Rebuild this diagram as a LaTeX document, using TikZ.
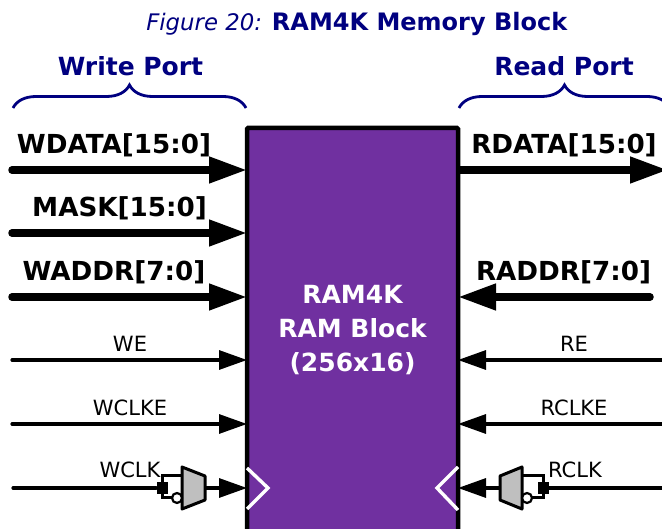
\documentclass[tikz,border=0pt]{standalone}
\usepackage{fontspec}
\setmainfont{DejaVu Sans}
\usepackage{xcolor}
\usepackage{tikz}
\usetikzlibrary{arrows.meta,decorations.pathreplacing}
\definecolor{navytext}{RGB}{0,0,128}
\definecolor{blockfill}{RGB}{112,48,160}
\definecolor{muxfill}{RGB}{191,191,191}
\tikzset{
  busline/.style={line width=7.5pt,-{Triangle[length=38pt,width=25pt]}},
  sigline/.style={line width=3.2pt,-{Triangle[length=28pt,width=19pt]}},
  buslabel/.style={font=\fontsize{26.2}{29}\selectfont\bfseries,inner sep=0pt},
  siglabel/.style={font=\fontsize{21}{24}\selectfont,inner sep=0pt},
  headlabel/.style={font=\fontsize{25}{28}\selectfont\bfseries,text=navytext,inner sep=0pt},
  bracket/.style={draw=navytext,line width=2.8pt,decorate,decoration={brace,amplitude=23pt}},
  muxbox/.style={draw,line width=3pt,fill=muxfill,line join=round},
  bubble/.style={circle,draw,line width=2.2pt,fill=white,inner sep=0pt,minimum size=10pt},
  tap/.style={rectangle,fill=black,inner sep=0pt,minimum width=11pt,minimum height=12pt},
  chevron/.style={draw=white,line width=3.4pt}
}
\begin{document}
\begin{tikzpicture}[x=1pt,y=-1pt]
  \useasboundingbox (0,0) rectangle (662,529);
  \clip (0,0) rectangle (662,529);

  \node (title) at (357,24) [inner sep=0pt,text=navytext] {{\fontsize{22.8}{28}\selectfont\textit{Figure 20:}}\hspace{10pt}{\fontsize{24}{28}\selectfont\textbf{RAM4K Memory Block}}};
  \node (writehead) at (130.5,66) [headlabel] {Write Port};
  \node (readhead) at (564,66) [headlabel] {Read Port};

  \draw[bracket] (13,108) -- (246,108);
  \draw[bracket] (459,108) -- (670,108);

  \node (block) at (352.5,340) [rectangle,draw,line width=4.5pt,fill=blockfill,outer sep=0pt,minimum width=211pt,minimum height=424pt,rounded corners=1pt] {};
  \node (blocktext) at (352.5,330) [align=center,text=white,inner sep=0pt,font=\fontsize{25}{34}\selectfont\bfseries] {RAM4K\\RAM Block\\(256x16)};

  % thick buses
  \foreach \y/\nm/\txt/\tx in {170/wdata/WDATA[15:0]/114,233/mask/MASK[15:0]/119.5,297/waddr/WADDR[7:0]/114}{
    \coordinate (\nm in) at (12,\y);
    \draw[busline,line cap=round] (\nm in) -- (\nm in -| block.west);
    \node (\nm label) at (\tx,\y-25) [buslabel] {\txt};
  }
  \coordinate (rdata out) at (668,170);
  \draw[busline] (rdata out -| block.east) -- (rdata out);
  \node (rdata label) at (564,145) [buslabel] {RDATA[15:0]};
  \coordinate (raddr in) at (650,297);
  \draw[busline,line cap=round] (raddr in) -- (raddr in -| block.east);
  \node (raddr label) at (563.5,272) [buslabel] {RADDR[7:0]};

  % single wires
  \foreach \y/\nm/\txt/\tx in {360/we/WE/130,424/wclke/WCLKE/130}{
    \coordinate (\nm in) at (12,\y);
    \draw[sigline,line cap=round] (\nm in) -- (\nm in -| block.west);
    \node (\nm label) at (\tx,\y-16) [siglabel] {\txt};
  }
  \foreach \y/\nm/\txt/\tx in {360/re/RE/574,424/rclke/RCLKE/574}{
    \coordinate (\nm in) at (662,\y);
    \draw[sigline] (\nm in) -- (\nm in -| block.east);
    \node (\nm label) at (\tx,\y-16) [siglabel] {\txt};
  }

  % clock on the write side
  \coordinate (wclk in) at (13,488);
  \coordinate (wmux out) at (205,488);
  \node (wtap) at (162,488) [tap] {};
  \draw[line width=3.2pt,line cap=round] (wclk in) -- (wtap);
  \draw[line width=3pt] (wtap) |- (182,476);
  \draw[line width=3pt] (wtap) |- (172,498);
  \draw[muxbox] (182,467) -- (205,476) -- (205,500) -- (182,509) -- cycle;
  \node (wbub) at (177,498) [bubble] {};
  \draw[sigline] (wmux out) -- (wmux out -| block.west);
  \node (wclk label) at (130,470) [siglabel] {WCLK};
  \draw[chevron] (247,468) -- (268,488) -- (247,509);

  % clock on the read side
  \coordinate (rclk in) at (662,488);
  \coordinate (rmux out) at (500,488);
  \node (rtap) at (543,488) [tap] {};
  \draw[line width=3.2pt] (rclk in) -- (rtap);
  \draw[line width=3pt] (rtap) |- (522,476);
  \draw[line width=3pt] (rtap) |- (532,498);
  \draw[muxbox] (522,467) -- (500,476) -- (500,500) -- (522,509) -- cycle;
  \node (rbub) at (527,498) [bubble] {};
  \draw[sigline] (rmux out) -- (rmux out -| block.east);
  \node (rclk label) at (575,470) [siglabel] {RCLK};
  \draw[chevron] (458,467) -- (437,488) -- (458,510);
\end{tikzpicture}
\end{document}
